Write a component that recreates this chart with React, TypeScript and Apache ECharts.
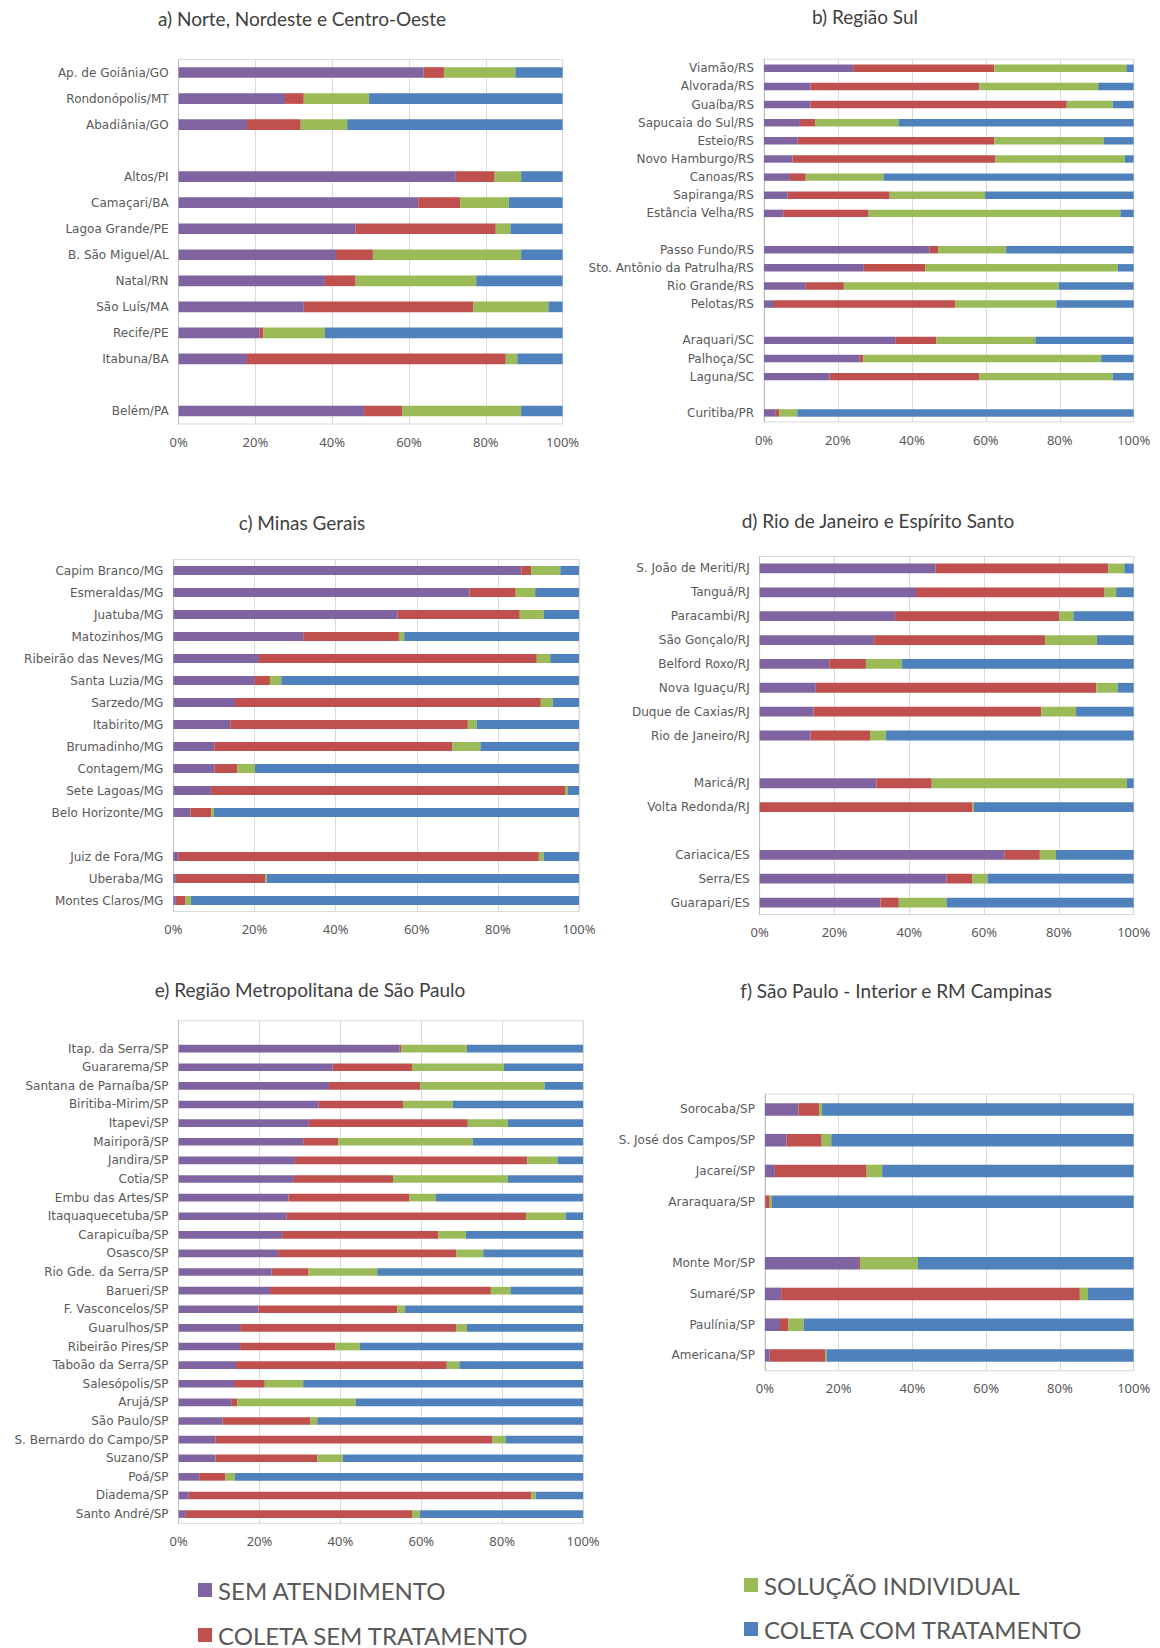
import React, { useEffect, useRef } from 'react';
import * as echarts from 'echarts';

// ---------- DATA ----------
const SERIES_NAMES = ['SEM ATENDIMENTO', 'COLETA SEM TRATAMENTO', 'SOLUÇÃO INDIVIDUAL', 'COLETA COM TRATAMENTO'];
const X_TICK_INTERVAL = 20;

const catsA = ['Ap. de Goiânia/GO', 'Rondonópolis/MT', 'Abadiânia/GO', '', 'Altos/PI', 'Camaçari/BA', 'Lagoa Grande/PE', 'B. São Miguel/AL', 'Natal/RN', 'São Luís/MA', 'Recife/PE', 'Itabuna/BA', ' ', 'Belém/PA'];
const semA = [63.8, 27.7, 17.8, null, 72.2, 62.4, 46.1, 41.0, 38.1, 32.6, 21.0, 17.8, null, 48.3];
const colA = [5.3, 4.9, 14.0, null, 10.1, 10.9, 36.5, 9.6, 8.0, 44.1, 1.1, 67.4, null, 9.9];
const solA = [18.6, 17.0, 12.1, null, 6.9, 12.7, 3.8, 38.6, 31.4, 19.6, 16.0, 3.0, null, 31.0];
const tratA = [12.3, 50.4, 56.1, null, 10.8, 14.0, 13.6, 10.8, 22.5, 3.7, 61.9, 11.8, null, 10.8];

const catsB = ['Viamão/RS', 'Alvorada/RS', 'Guaíba/RS', 'Sapucaia do Sul/RS', 'Esteio/RS', 'Novo Hamburgo/RS', 'Canoas/RS', 'Sapiranga/RS', 'Estância Velha/RS', '', 'Passo Fundo/RS', 'Sto. Antônio da Patrulha/RS', 'Rio Grande/RS', 'Pelotas/RS', ' ', 'Araquari/SC', 'Palhoça/SC', 'Laguna/SC', '  ', 'Curitiba/PR'];
const semB = [24.1, 12.6, 12.6, 9.7, 9.1, 7.7, 7.0, 6.4, 5.2, null, 44.8, 27.0, 11.3, 2.7, null, 35.5, 25.9, 17.7, null, 3.2];
const colB = [38.2, 45.6, 69.3, 4.1, 53.2, 54.9, 4.3, 27.6, 23.1, null, 2.3, 16.7, 10.3, 49.0, null, 11.1, 1.0, 40.5, null, 0.9];
const solB = [35.7, 32.2, 12.4, 22.6, 29.6, 35.0, 21.0, 25.8, 68.1, null, 18.4, 52.0, 58.1, 27.4, null, 26.8, 64.3, 36.1, null, 4.9];
const tratB = [2.0, 9.6, 5.7, 63.6, 8.1, 2.4, 67.7, 40.2, 3.6, null, 34.5, 4.3, 20.3, 20.9, null, 26.6, 8.8, 5.7, null, 91.0];

const catsC = ['Capim Branco/MG', 'Esmeraldas/MG', 'Juatuba/MG', 'Matozinhos/MG', 'Ribeirão das Neves/MG', 'Santa Luzia/MG', 'Sarzedo/MG', 'Itabirito/MG', 'Brumadinho/MG', 'Contagem/MG', 'Sete Lagoas/MG', 'Belo Horizonte/MG', '', 'Juiz de Fora/MG', 'Uberaba/MG', 'Montes Claros/MG'];
const semC = [85.8, 73.0, 55.3, 32.0, 21.1, 20.1, 15.2, 14.0, 10.1, 10.1, 9.3, 4.2, null, 1.2, 0.6, 0.6];
const colC = [2.4, 11.4, 30.1, 23.6, 68.5, 3.7, 75.4, 58.6, 58.7, 5.7, 87.4, 5.1, null, 88.9, 22.0, 2.4];
const solC = [7.2, 4.8, 5.9, 1.3, 3.3, 2.8, 2.9, 2.2, 6.9, 4.3, 0.6, 0.7, null, 1.2, 0.4, 1.3];
const tratC = [4.6, 10.8, 8.7, 43.1, 7.1, 73.4, 6.5, 25.2, 24.3, 79.9, 2.7, 90.0, null, 8.7, 77.0, 95.7];

const catsD = ['S. João de Meriti/RJ', 'Tanguá/RJ', 'Paracambi/RJ', 'São Gonçalo/RJ', 'Belford Roxo/RJ', 'Nova Iguaçu/RJ', 'Duque de Caxias/RJ', 'Rio de Janeiro/RJ', '', 'Maricá/RJ', 'Volta Redonda/RJ', ' ', 'Cariacica/ES', 'Serra/ES', 'Guarapari/ES'];
const semD = [47.0, 41.8, 36.2, 30.6, 18.6, 15.0, 14.4, 13.6, null, 31.2, 0, null, 65.4, 49.9, 32.3];
const colD = [46.2, 50.4, 43.9, 45.7, 9.8, 75.0, 60.9, 15.9, null, 14.8, 56.9, null, 9.5, 6.9, 4.9];
const solD = [4.3, 3.1, 3.8, 13.9, 9.6, 5.7, 9.3, 4.3, null, 52.2, 0.4, null, 4.3, 4.1, 12.8];
const tratD = [2.5, 4.7, 16.1, 9.8, 62.0, 4.3, 15.4, 66.2, null, 1.8, 42.7, null, 20.8, 39.1, 50.0];

const catsE = ['', 'Itap. da Serra/SP', 'Guararema/SP', 'Santana de Parnaíba/SP', 'Biritiba-Mirim/SP', 'Itapevi/SP', 'Mairiporã/SP', 'Jandira/SP', 'Cotia/SP', 'Embu das Artes/SP', 'Itaquaquecetuba/SP', 'Carapicuíba/SP', 'Osasco/SP', 'Rio Gde. da Serra/SP', 'Barueri/SP', 'F. Vasconcelos/SP', 'Guarulhos/SP', 'Ribeirão Pires/SP', 'Taboão da Serra/SP', 'Salesópolis/SP', 'Arujá/SP', 'São Paulo/SP', 'S. Bernardo do Campo/SP', 'Suzano/SP', 'Poá/SP', 'Diadema/SP', 'Santo André/SP'];
const semE = [null, 54.6, 38.1, 37.2, 34.6, 32.2, 30.8, 28.8, 28.5, 27.2, 26.7, 25.6, 24.6, 23.0, 22.6, 19.7, 15.2, 15.2, 14.2, 13.7, 13.0, 10.9, 9.1, 9.1, 5.1, 2.5, 1.8];
const colE = [null, 0.5, 19.6, 22.5, 20.9, 39.3, 8.7, 57.4, 24.5, 29.9, 59.2, 38.6, 44.1, 9.1, 54.6, 34.4, 53.5, 23.6, 52.1, 7.6, 1.5, 21.7, 68.4, 25.2, 6.5, 84.7, 55.9];
const solE = [null, 16.2, 22.7, 30.8, 12.3, 9.9, 33.2, 7.5, 28.4, 6.5, 9.8, 6.8, 6.6, 17.0, 4.9, 1.9, 2.6, 6.0, 3.1, 9.5, 29.3, 1.7, 3.3, 6.3, 2.3, 1.1, 1.9];
const tratE = [null, 28.7, 19.6, 9.5, 32.2, 18.6, 27.3, 6.3, 18.6, 36.4, 4.3, 29.0, 24.7, 50.9, 17.9, 44.0, 28.7, 55.2, 30.6, 69.2, 56.2, 65.7, 19.2, 59.4, 86.1, 11.7, 40.4];

const catsF = ['Sorocaba/SP', 'S. José dos Campos/SP', 'Jacareí/SP', 'Araraquara/SP', '', 'Monte Mor/SP', 'Sumaré/SP', 'Paulínia/SP', 'Americana/SP'];
const semF = [9.1, 5.9, 2.7, 0.2, null, 25.5, 4.4, 4.1, 1.3];
const colF = [5.6, 9.5, 24.9, 1.1, null, 0.3, 81.0, 2.3, 15.0];
const solF = [0.8, 2.6, 4.2, 0.6, null, 15.7, 2.2, 4.1, 0.4];
const tratF = [84.5, 82.0, 68.2, 98.1, null, 58.5, 12.4, 89.5, 83.3];

// ---------- STYLE / LAYOUT ----------
const COLORS = ['#8064A2', '#C0504D', '#9BBB59', '#4F81BD'];
const FONT = '"DejaVu Sans", "Noto Sans", sans-serif';
const TICK_FONT = '"Noto Sans", "Open Sans", sans-serif';
const TITLE_FONT = 'Lato, "Noto Sans", sans-serif';

const panels = [
  { title: 'a) Norte, Nordeste e Centro-Oeste', cats: catsA, values: [semA, colA, solA, tratA], grid: { left: 178.6, top: 59.5, width: 384, height: 364.5 }, tx: 302, ty: 18 },
  { title: 'b) Região Sul', cats: catsB, values: [semB, colB, solB, tratB], grid: { left: 764, top: 59.2, width: 369.7, height: 362.8 }, tx: 865, ty: 16 },
  { title: 'c) Minas Gerais', cats: catsC, values: [semC, colC, solC, tratC], grid: { left: 173.4, top: 559.5, width: 405.6, height: 352 }, tx: 302, ty: 522 },
  { title: 'd) Rio de Janeiro e Espírito Santo', cats: catsD, values: [semD, colD, solD, tratD], grid: { left: 759.7, top: 556.5, width: 374, height: 358 }, tx: 878, ty: 520 },
  { title: 'e) Região Metropolitana de São Paulo', cats: catsE, values: [semE, colE, solE, tratE], grid: { left: 178.6, top: 1020.7, width: 404.5, height: 502.7 }, tx: 310, ty: 989 },
  { title: 'f) São Paulo - Interior e RM Campinas', cats: catsF, values: [semF, colF, solF, tratF], grid: { left: 764.9, top: 1094.1, width: 368.8, height: 276.7 }, tx: 896, ty: 990 },
];

const legendItems = [
  { idx: 0, x: 205, y: 1590 },
  { idx: 1, x: 205, y: 1635 },
  { idx: 2, x: 751, y: 1585 },
  { idx: 3, x: 751, y: 1629 },
];

export default function App() {
  const ref = useRef<HTMLDivElement>(null);
  useEffect(() => {
    document.body.style.margin = '0';
    if (!ref.current) return;
    const chart = echarts.init(ref.current, undefined, { renderer: 'svg' });
    const series: any[] = [];
    panels.forEach((p, i) => {
      p.values.forEach((vals, k) => {
        series.push({
          type: 'bar',
          name: SERIES_NAMES[k],
          stack: 'p' + i,
          xAxisIndex: i,
          yAxisIndex: i,
          data: vals,
          barWidth: '41%',
          itemStyle: { color: COLORS[k] },
          emphasis: { disabled: true },
        });
      });
    });
    const graphics: any[] = [];
    panels.forEach((p) => {
      graphics.push({
        type: 'text',
        x: p.tx,
        y: p.ty,
        style: { text: p.title, fill: '#404040', font: `19px ${TITLE_FONT}`, textAlign: 'center', textVerticalAlign: 'middle' },
      });
    });
    legendItems.forEach((l) => {
      graphics.push({ type: 'rect', shape: { x: l.x - 7, y: l.y - 7, width: 14, height: 14 }, style: { fill: COLORS[l.idx] } });
      graphics.push({
        type: 'text',
        x: l.x + 13,
        y: l.y,
        style: { text: SERIES_NAMES[l.idx], fill: '#595959', font: `24px ${TITLE_FONT}`, textAlign: 'left', textVerticalAlign: 'middle' },
      });
    });
    chart.setOption({
      animation: false,
      grid: panels.map((p) => ({ ...p.grid, show: true, borderColor: '#d9d9d9', borderWidth: 1, backgroundColor: 'transparent' })),
      xAxis: panels.map((p, i) => ({
        type: 'value',
        gridIndex: i,
        min: 0,
        max: 100,
        interval: X_TICK_INTERVAL,
        axisLabel: { formatter: '{value}%', color: '#595959', fontSize: 13, margin: 11, fontFamily: TICK_FONT },
        splitLine: { show: true, lineStyle: { color: '#d9d9d9', width: 1 } },
        axisLine: { show: false },
        axisTick: { show: false },
      })),
      yAxis: panels.map((p, i) => ({
        type: 'category',
        gridIndex: i,
        data: p.cats,
        inverse: true,
        axisLabel: { interval: 0, color: '#595959', fontSize: 12, margin: 10, fontFamily: FONT },
        axisTick: { show: false },
        axisLine: { show: true, lineStyle: { color: '#bfbfbf' } },
        splitLine: { show: false },
      })),
      series,
      graphic: graphics,
    });
    return () => chart.dispose();
  }, []);
  return <div ref={ref} style={{ width: 1160, height: 1648 }} />;
}
